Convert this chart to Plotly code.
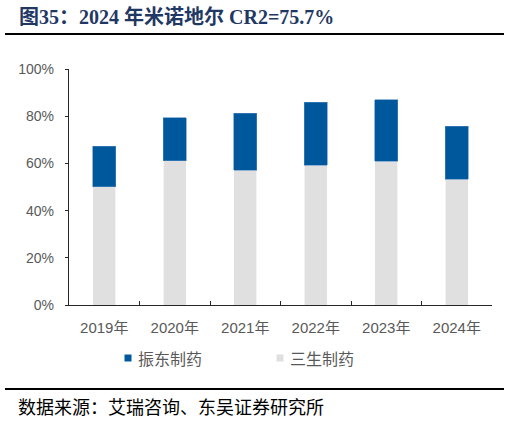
import plotly.graph_objects as go

years = ["2019年", "2020年", "2021年", "2022年", "2023年", "2024年"]
sansheng = [0.501, 0.612, 0.570, 0.592, 0.609, 0.533]   # 三生制药
zhendong = [0.172, 0.182, 0.242, 0.267, 0.260, 0.224]   # 振东制药
series_names = ["振东制药", "三生制药"]
title_text = "图35：2024 年米诺地尔 CR2=75.7%"
source_text = "数据来源：艾瑞咨询、东吴证券研究所"

DARK = "#00589C"
LIGHT = "#E0E0E0"
GREY = "#595959"
series_colors = [DARK, LIGHT]

W, H = 509, 423
ML, MR, MT, MB = 69, 17, 69, 118
PW = W - ML - MR
PH = H - MT - MB

def px_x(p):
    return (p - ML) / PW

def px_y(p):
    return (H - MB - p) / PH

fig = go.Figure()
fig.add_trace(go.Bar(x=years, y=sansheng, name=series_names[1],
                     marker=dict(color=LIGHT, line=dict(color="white", width=0.6)),
                     showlegend=False, width=0.32))
fig.add_trace(go.Bar(x=years, y=zhendong, name=series_names[0],
                     marker=dict(color=DARK, line=dict(color="#4F86BE", width=0.6)),
                     showlegend=False, width=0.32))

fig.update_layout(
    width=W, height=H,
    margin=dict(l=ML, r=MR, t=MT, b=MB, autoexpand=False),
    barmode="stack",
    showlegend=False,
    plot_bgcolor="white", paper_bgcolor="white",
    font=dict(family="Liberation Sans, Arial, Noto Sans CJK SC", size=14, color=GREY),
    xaxis=dict(showline=True, linecolor="#262626", linewidth=1.3, ticks="inside", tickson="boundaries",
               ticklen=4, tickcolor="#262626", tickwidth=1, showgrid=False, ticklabelstandoff=9,
               tickfont=dict(size=15, color=GREY, family="Liberation Sans, Noto Sans CJK SC")),
    yaxis=dict(range=[0, 1.0001], tickvals=[0, 0.2, 0.4, 0.6, 0.8, 1.0], tickformat=".0%",
               showline=True, linecolor="#262626", linewidth=1.3, ticks="outside", ticklen=3,
               tickcolor="#262626", showgrid=False, zeroline=False, ticklabelstandoff=8,
               tickfont=dict(size=14, color=GREY)),
)

# manual legend (small squares + labels)
legend_sq_x = [128, 280]
legend_txt_x = [136, 288]
for name, col, sx, tx in zip(series_names, series_colors, legend_sq_x, legend_txt_x):
    fig.add_shape(type="rect", xref="paper", yref="paper",
                  x0=px_x(sx - 3.5), x1=px_x(sx + 3.5), y0=px_y(361.5), y1=px_y(354.5),
                  fillcolor=col, line=dict(width=0))
    fig.add_annotation(text=name, xref="paper", yref="paper", x=px_x(tx), y=px_y(358),
                       xanchor="left", yanchor="middle", showarrow=False,
                       font=dict(family="Noto Sans CJK SC", size=16, color=GREY))

fig.add_annotation(text="<b>" + title_text + "</b>", xref="paper", yref="paper",
                   x=px_x(17), y=px_y(17), xanchor="left", yanchor="middle", showarrow=False,
                   font=dict(family="Liberation Serif, Noto Sans CJK SC", size=20, color="#1F3864"))
fig.add_annotation(text=source_text, xref="paper", yref="paper",
                   x=px_x(16), y=px_y(406), xanchor="left", yanchor="middle", showarrow=False,
                   font=dict(family="Noto Sans CJK SC", size=18, color="#000000"))
fig.add_shape(type="line", xref="paper", yref="paper", x0=px_x(5), x1=px_x(504), y0=px_y(34), y1=px_y(34),
              line=dict(color="black", width=2))
fig.add_shape(type="line", xref="paper", yref="paper", x0=px_x(5), x1=px_x(504), y0=px_y(389), y1=px_y(389),
              line=dict(color="black", width=2))

fig.write_html("out.html", config={"displayModeBar": False},
               post_script="document.body.style.margin='0';document.body.style.overflow='hidden';")
